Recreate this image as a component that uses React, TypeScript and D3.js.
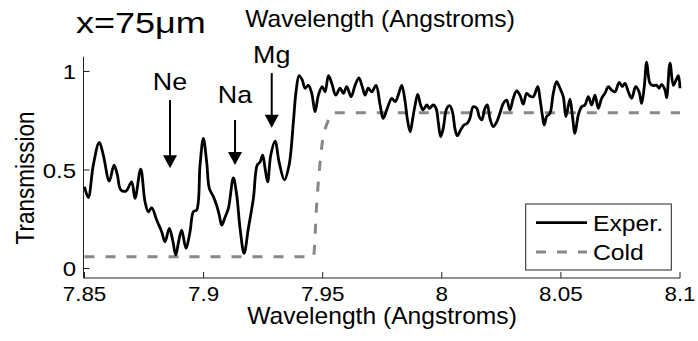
import React from 'react';
import * as d3 from 'd3';

const wavelength = [
  7.85, 7.8516, 7.8537, 7.8562, 7.8579, 7.8604, 7.8624, 7.8638, 7.8652, 7.8674, 7.8698, 7.8712, 7.8736, 7.8754,
  7.8768, 7.8782, 7.8803, 7.8824, 7.8838, 7.8856, 7.887, 7.8883, 7.8895, 7.8908, 7.8926, 7.8943, 7.8957, 7.8971,
  7.8985, 7.8999, 7.9013, 7.9024, 7.9041, 7.9055, 7.9066, 7.9076, 7.909, 7.9104, 7.9125, 7.9139, 7.9153, 7.917,
  7.9188, 7.9209, 7.9225, 7.9237, 7.9248, 7.9258, 7.9269, 7.9282, 7.93, 7.9317, 7.9339, 7.9359, 7.9377, 7.9388,
  7.9401, 7.9414, 7.9426, 7.944, 7.9454, 7.9468, 7.9482, 7.9498, 7.951, 7.9524, 7.9538, 7.9555, 7.9573, 7.9587,
  7.9601, 7.9619, 7.9636, 7.9652, 7.9666, 7.9678, 7.9691, 7.9706, 7.9724, 7.9741, 7.9754, 7.9771, 7.979, 7.9804,
  7.9817, 7.9832, 7.9846, 7.9855, 7.9867, 7.9878, 7.9888, 7.9899, 7.9911, 7.9922, 7.9937, 7.9948, 7.9964, 7.9976,
  7.9985, 7.9995, 8.0006, 8.0021, 8.0034, 8.0046, 8.0055, 8.0065, 8.0079, 8.0093, 8.0107, 8.0118, 8.0132, 8.0147,
  8.0157, 8.0168, 8.0181, 8.0191, 8.0202, 8.0216, 8.0231, 8.0244, 8.0258, 8.0272, 8.0286, 8.03, 8.0314, 8.0328,
  8.0342, 8.0356, 8.037, 8.0384, 8.0403, 8.0412, 8.0422, 8.043, 8.044, 8.0454, 8.0468, 8.0482, 8.0496, 8.051,
  8.0521, 8.0538, 8.0548, 8.0559, 8.0573, 8.0587, 8.0601, 8.0615, 8.0629, 8.0643, 8.0657, 8.0671, 8.0685, 8.0699,
  8.0713, 8.0727, 8.0745, 8.0758, 8.0769, 8.0783, 8.0797, 8.0814, 8.0828, 8.0839, 8.085, 8.086, 8.0874, 8.0888,
  8.0902, 8.0912, 8.0923, 8.0937, 8.0944, 8.0958, 8.0972, 8.0982, 8.0993, 8.1,
];

const experValues = [
  0.415, 0.36, 0.525, 0.64, 0.576, 0.444, 0.525, 0.475, 0.4, 0.393, 0.44, 0.356, 0.505, 0.339,
  0.288, 0.309, 0.246, 0.187, 0.136, 0.204, 0.145, 0.069, 0.136, 0.195, 0.103, 0.187, 0.288, 0.297,
  0.525, 0.66, 0.54, 0.407, 0.365, 0.32, 0.27, 0.22, 0.26, 0.305, 0.46, 0.373, 0.204, 0.077,
  0.204, 0.356, 0.525, 0.54, 0.576, 0.509, 0.44, 0.576, 0.647, 0.54, 0.45, 0.525, 0.745, 0.897,
  0.979, 0.957, 0.915, 0.93, 0.889, 0.796, 0.88, 0.923, 0.897, 0.979, 0.94, 0.88, 0.915, 0.889,
  0.923, 0.872, 0.93, 0.968, 0.923, 0.88, 0.915, 0.897, 0.93, 0.83, 0.762, 0.813, 0.864, 0.847,
  0.88, 0.93, 0.847, 0.762, 0.694, 0.762, 0.83, 0.884, 0.83, 0.805, 0.83, 0.813, 0.83, 0.813,
  0.745, 0.669, 0.711, 0.813, 0.826, 0.788, 0.711, 0.674, 0.703, 0.728, 0.737, 0.762, 0.821, 0.813,
  0.771, 0.754, 0.813, 0.83, 0.762, 0.72, 0.745, 0.788, 0.838, 0.855, 0.805, 0.864, 0.901, 0.88,
  0.834, 0.889, 0.875, 0.872, 0.923, 0.864, 0.779, 0.728, 0.771, 0.788, 0.889, 0.948, 0.915, 0.872,
  0.771, 0.86, 0.779, 0.686, 0.779, 0.821, 0.83, 0.872, 0.83, 0.88, 0.813, 0.864, 0.889, 0.923,
  0.906, 0.897, 0.945, 0.923, 0.94, 0.897, 0.864, 0.923, 0.897, 0.838, 0.923, 1.047, 0.94, 0.928,
  0.93, 0.915, 0.935, 0.906, 0.867, 1.042, 0.93, 0.952, 0.979, 0.915,
];

const coldWavelength = [7.85, 7.9461, 7.9475, 7.9496, 7.9524, 7.9538, 8.1];
const coldValues = [0.06, 0.06, 0.33, 0.618, 0.754, 0.79, 0.79];

const xTicks = [7.85, 7.9, 7.95, 8, 8.05, 8.1];
const xTickLabels = ['7.85', '7.9', '7.95', '8', '8.05', '8.1'];
const yTicks = [0, 0.5, 1];
const yTickLabels = ['0', '0.5', '1'];

const annLabels = ['Ne', 'Na', 'Mg'];
const annX = [7.8859, 7.9132, 7.9286];
const annTop = [0.855, 0.754, 0.992];
const annTip = [0.509, 0.525, 0.715];
const annTextY = [0.906, 0.84, 1.043];

const legendLabels = ['Exper.', 'Cold'];
const titleText = 'x=75\u03bcm';
const xLabel = 'Wavelength (Angstroms)';
const yLabel = 'Transmission';

const FONT = "'Liberation Sans', Arial, Helvetica, sans-serif";

function T(props: { x: number; y: number; size: number; anchor?: string; rot?: boolean; sx?: number; children: any }) {
  const { x, y, size, anchor = 'start', rot = false, sx = 1.18, children } = props;
  return (
    <text
      transform={`translate(${x},${y}) scale(${sx},1)${rot ? ' rotate(-90)' : ''}`}
      fontSize={size}
      textAnchor={anchor}
      fontFamily={FONT}
      fill="#000"
    >
      {children}
    </text>
  );
}

export default function App() {
  const W = 698;
  const H = 341;
  const x = d3.scaleLinear().domain([7.85, 8.1]).range([84.5, 680]);
  const y = d3.scaleLinear().domain([-0.048, 1.075]).range([278, 56.7]);

  const line = d3
    .line<number>()
    .x((_, i) => x(wavelength[i]))
    .y((d) => y(d))
    .curve(d3.curveCatmullRom.alpha(0.5));
  const coldLine = d3
    .line<number>()
    .x((_, i) => x(coldWavelength[i]))
    .y((d) => y(d))
    .curve(d3.curveMonotoneX);

  const x0 = 83.5;
  const yBottom = y.range()[0];
  const yTop = y.range()[1];

  return (
    <svg width={W} height={H} style={{ position: 'absolute', left: 0, top: 0, background: '#fff' }}>
      <rect x={0} y={0} width={W} height={H} fill="#fff" />
      <T x={76} y={32.5} size={30} sx={1.2}>{titleText}</T>
      <T x={380} y={26.5} size={23} sx={1.07} anchor="middle">{xLabel}</T>

      <line x1={x0} x2={x0} y1={yTop} y2={yBottom} stroke="#222" strokeWidth={1} />
      <line x1={x0} x2={x(8.1)} y1={yBottom} y2={yBottom} stroke="#222" strokeWidth={1} />
      {xTicks.map((t, i) => (
        <g key={'xt' + i}>
          <line x1={x(t)} x2={x(t)} y1={yBottom} y2={yBottom - 6} stroke="#222" strokeWidth={1} />
          <T x={x(t)} y={300.5} size={20} sx={1.12} anchor="middle">{xTickLabels[i]}</T>
        </g>
      ))}
      {yTicks.map((t, i) => (
        <g key={'yt' + i}>
          <line x1={x0} x2={x0 + 6} y1={y(t)} y2={y(t)} stroke="#222" strokeWidth={1} />
          <T x={76} y={y(t) + 7.5} size={20} sx={1.2} anchor="end">{yTickLabels[i]}</T>
        </g>
      ))}
      <T x={382} y={324} size={23} sx={1.07} anchor="middle">{xLabel}</T>
      <T x={34} y={178} size={22.5} sx={1.15} anchor="middle" rot>{yLabel}</T>

      <path d={coldLine(coldValues) || ''} fill="none" stroke="#888" strokeWidth={3} strokeDasharray="10,11" />
      <path d={line(experValues) || ''} fill="none" stroke="#000" strokeWidth={2.8} strokeLinejoin="round" />

      {annLabels.map((lab, i) => {
        const ax = x(annX[i]);
        const top = y(annTop[i]);
        const tip = y(annTip[i]);
        return (
          <g key={'ann' + i}>
            <line x1={ax} x2={ax} y1={top} y2={tip - 10} stroke="#000" strokeWidth={2} />
            <path d={`M${ax - 7},${tip - 13} L${ax + 7},${tip - 13} L${ax},${tip} Z`} fill="#000" />
            <T x={ax} y={y(annTextY[i])} size={24} sx={1.12} anchor="middle">{lab}</T>
          </g>
        );
      })}

      <rect x={525.7} y={204} width={145.6} height={66} fill="#fff" stroke="#222" strokeWidth={1} />
      <line x1={536} x2={587} y1={222.7} y2={222.7} stroke="#000" strokeWidth={2.8} />
      <line x1={536} x2={587} y1={252} y2={252} stroke="#888" strokeWidth={3} strokeDasharray="10,11" />
      <T x={593} y={230.5} size={21.5} sx={1.15}>{legendLabels[0]}</T>
      <T x={593} y={260} size={21.5} sx={1.15}>{legendLabels[1]}</T>
    </svg>
  );
}
